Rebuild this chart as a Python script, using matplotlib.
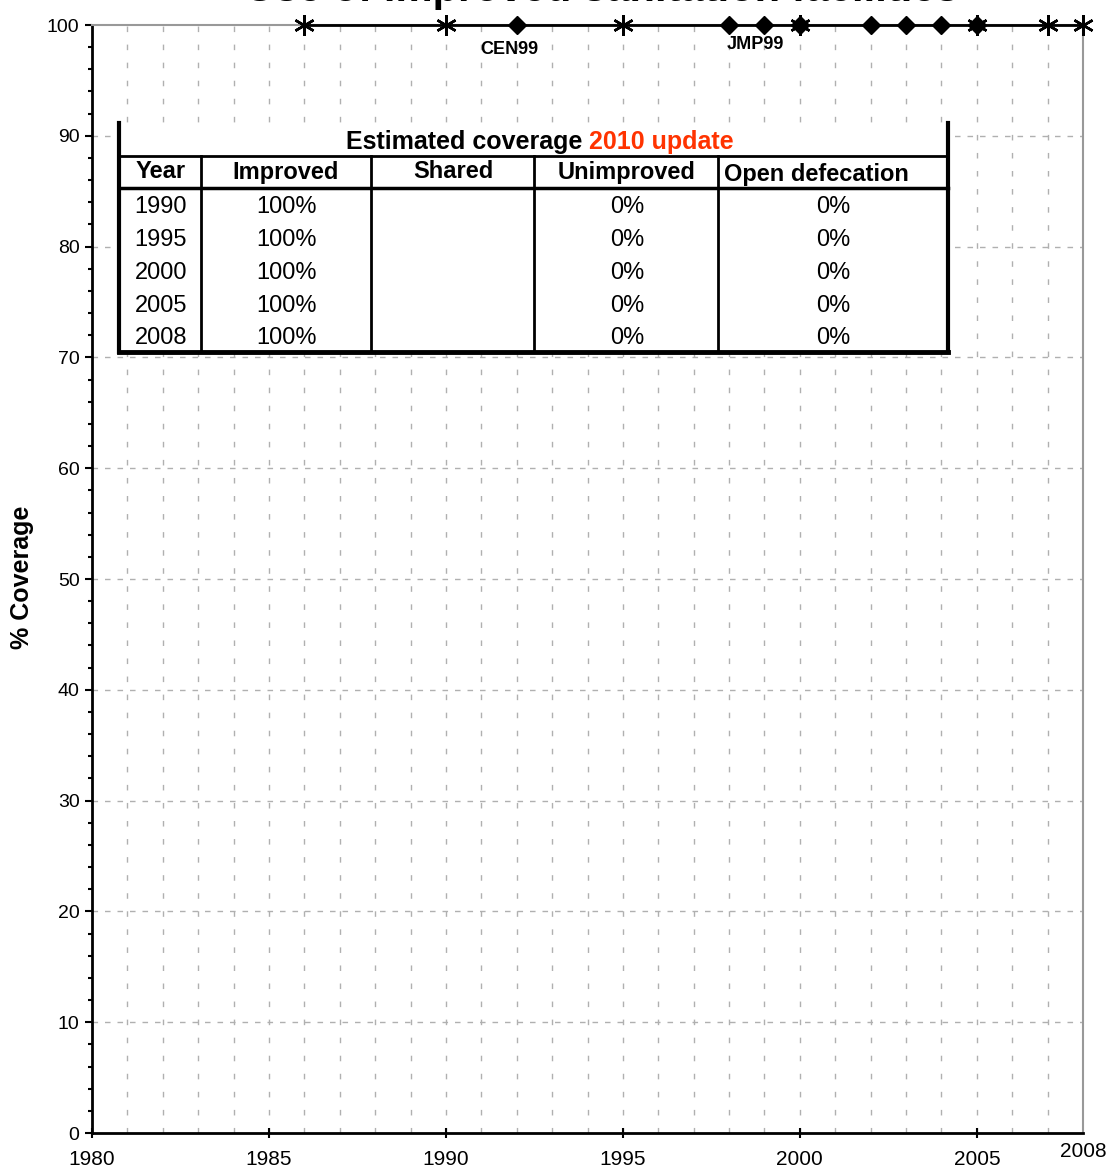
import matplotlib
matplotlib.use('Agg')
import matplotlib.pyplot as plt
from matplotlib.ticker import MultipleLocator

plt.rcParams['font.family'] = ['Liberation Sans', 'DejaVu Sans']

# Data
est_years = [1986, 1990, 1995, 2000, 2005, 2007, 2008]
est_values = [100, 100, 100, 100, 100, 100, 100]
survey_years = [1992, 1998, 1999, 2000, 2002, 2003, 2004, 2005]
survey_values = [100, 100, 100, 100, 100, 100, 100, 100]
survey_labels = [(1991.8, 97.8, 'CEN99'), (1998.75, 98.2, 'JMP99')]

table_years = ['1990', '1995', '2000', '2005', '2008']
table_improved = ['100%', '100%', '100%', '100%', '100%']
table_shared = ['', '', '', '', '']
table_unimproved = ['0%', '0%', '0%', '0%', '0%']
table_open = ['0%', '0%', '0%', '0%', '0%']
table_headers = ['Year', 'Improved', 'Shared', 'Unimproved', 'Open defecation']

W, H = 1114, 1169
fig = plt.figure(figsize=(W / 100, H / 100), dpi=100)
ax = fig.add_axes([92 / W, 1 - 1133 / H, (1083 - 92) / W, (1133 - 25) / H])

ax.set_xlim(1980, 2008)
ax.set_ylim(0, 100)

# grid
ax.xaxis.set_minor_locator(MultipleLocator(1))
ax.yaxis.set_minor_locator(MultipleLocator(2))
ax.set_xticks([1980, 1985, 1990, 1995, 2000, 2005])
ax.set_yticks(range(0, 101, 10))
for yv in range(10, 100, 10):
    ax.axhline(yv, color='#b0b0b0', lw=1, dashes=(4, 5), zorder=0)
for xv in range(1981, 2008):
    ax.axvline(xv, color='#b0b0b0', lw=1, dashes=(4, 9), zorder=0)

ax.spines['left'].set_linewidth(2)
ax.spines['bottom'].set_linewidth(2)
ax.spines['top'].set_color('#999999')
ax.spines['right'].set_color('#999999')
ax.spines['top'].set_linewidth(1.5)
ax.spines['right'].set_linewidth(1.5)

ax.tick_params(axis='y', which='major', direction='out', length=5, width=1.5, labelsize=14, pad=4)
ax.tick_params(axis='y', which='minor', direction='out', length=3, width=1.5)
ax.tick_params(axis='x', which='major', direction='inout', length=7, width=1.5, labelsize=15, pad=9)
ax.tick_params(axis='x', which='minor', length=0)
ax.text(2008, -1.7, '2008', ha='center', va='center', fontsize=15, clip_on=False)

# series
ax.plot(est_years, est_values, color='black', lw=2, marker=(6, 2, 0), markersize=15,
        markeredgewidth=1.8, clip_on=False, zorder=5)
ax.plot(survey_years, survey_values, linestyle='none', marker='D', markersize=9,
        color='black', clip_on=False, zorder=6)
for lx, ly, lt in survey_labels:
    ax.text(lx, ly, lt, ha='center', va='center', fontsize=13, fontweight='bold', zorder=6)

fig.text(22 / W, 1 - 577 / H, '% Coverage', rotation=90, ha='center', va='center',
         fontsize=18, fontweight='bold')
# title sits mostly above the top edge, as in the original
fig.text(602 / W, 1 - 1.2 / H, 'Use of improved sanitation facilities', ha='center', va='baseline',
         fontsize=30, fontweight='bold')

# table overlay in pixel coordinates
tx = fig.add_axes([0, 0, 1, 1])
tx.set_xlim(0, W)
tx.set_ylim(H, 0)
tx.axis('off')

left, right, top, hdr_top, hdr_bot, bot = 119, 948, 123, 156, 188, 352
cols = [119, 201, 371, 534, 718, 948]
tx.add_patch(plt.Rectangle((left, top), right - left, bot - top, facecolor='white',
                           edgecolor='none', zorder=1))
tx.plot([left, left], [top, bot], color='black', lw=3, zorder=3)
tx.plot([right, right], [top, bot], color='black', lw=3, zorder=3)
tx.plot([left, right], [bot, bot], color='black', lw=3.5, zorder=3)
tx.plot([left, right], [hdr_top, hdr_top], color='black', lw=2, zorder=3)
tx.plot([left, right], [hdr_bot, hdr_bot], color='black', lw=2.5, zorder=3)
for cx in cols[1:-1]:
    tx.plot([cx, cx], [hdr_top, bot], color='black', lw=2, zorder=3)

tx.text(582, 142, 'Estimated coverage', ha='right', va='center', fontsize=18,
        fontweight='bold', zorder=4)
tx.text(589, 142, '2010 update', ha='left', va='center', fontsize=18,
        fontweight='bold', color='#FF3300', zorder=4)

centers = [161, 286, 453, 627, 833]
for i, h in enumerate(table_headers):
    if i == 4:
        tx.text(724, 174, h, ha='left', va='center', fontsize=17, fontweight='bold', zorder=4)
    else:
        tx.text(centers[i], 172, h, ha='center', va='center', fontsize=17, fontweight='bold', zorder=4)

row_y = [207, 240, 273, 306, 338]
columns = [table_years, table_improved, table_shared, table_unimproved, table_open]
for ci, col in enumerate(columns):
    for ry, val in zip(row_y, col):
        tx.text(centers[ci], ry, val, ha='center', va='center', fontsize=17, zorder=4)

fig.savefig('out.png', dpi=100)
